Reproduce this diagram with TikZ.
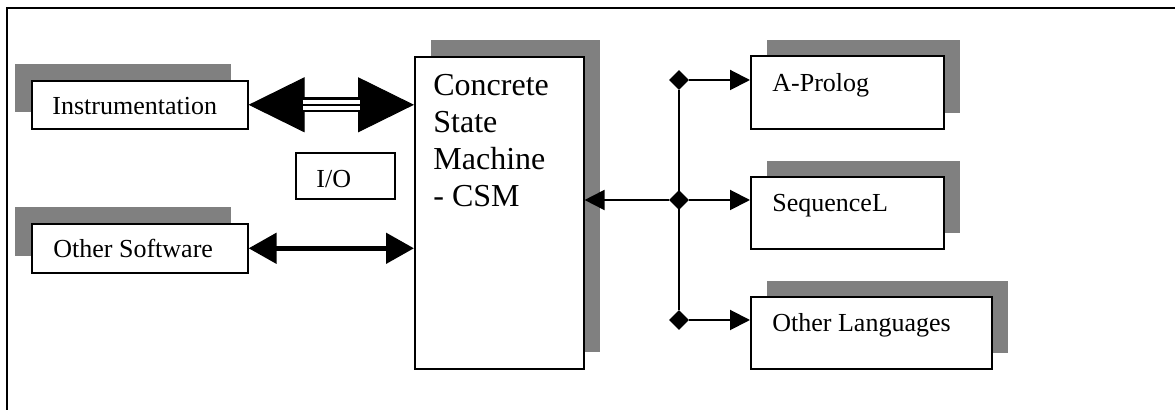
\documentclass[tikz,border=0pt]{standalone}
\usepackage{fontspec}
\setmainfont{Liberation Serif}
\usetikzlibrary{arrows.meta,shapes.geometric,shadows}
\definecolor{shadowgray}{RGB}{128,128,128}

\begin{document}
\begin{tikzpicture}[x=0.5pt,y=-0.5pt,font=\fontsize{13}{15}\selectfont,
  box/.style={draw=black,line width=0.8pt,fill=white,inner sep=0pt,anchor=north west},
  shadeleft/.style={general shadow={fill=shadowgray,shadow xshift=-8.5pt,shadow yshift=8.5pt}},
  shaderight/.style={general shadow={fill=shadowgray,shadow xshift=8pt,shadow yshift=8pt}},
  lbl/.style={inner sep=0pt,anchor=base west},
  junction/.style={diamond,fill=black,inner sep=0pt,minimum width=10pt,minimum height=10pt},
  bigarrow/.style={{Triangle[length=28pt,width=27.5pt]}-{Triangle[length=28pt,width=27.5pt]},line width=0.5pt},
  triple/.style={line width=1.25pt,preaction={draw,line width=7.5pt},preaction={draw=white,line width=5pt}},
  boldarrow/.style={{Triangle[length=14pt,width=15pt]}-{Triangle[length=14pt,width=15pt]},line width=2.5pt},
  thinarrow/.style={-{Triangle[length=10pt,width=10pt]},line width=1pt}]
\useasboundingbox (0,0) rectangle (1175,410);
\draw[line width=1pt] (7,410) -- (7,8) -- (1175,8);

\node[box,shadeleft,minimum width=108pt,minimum height=24pt] (inst) at (31,80) {};
\node[box,shadeleft,minimum width=108pt,minimum height=24.5pt] (soft) at (31,223) {};
\node[box,minimum width=49.5pt,minimum height=23pt] (io) at (295,152) {};
\node[box,general shadow={fill=shadowgray,shadow xshift=8pt,shadow yshift=8.5pt},minimum width=84.5pt,minimum height=156pt] (csm) at (414,56) {};
\node[box,shaderight,minimum width=96.5pt,minimum height=36.5pt] (aprolog) at (750,55) {};
\node[box,shaderight,minimum width=96.5pt,minimum height=36pt] (seql) at (750,176) {};
\node[box,shaderight,minimum width=120.5pt,minimum height=36pt] (otherlang) at (750,296) {};

\node[lbl] (insttext) at ([shift={(21,35)}]inst.north west) {Instrumentation};
\node[lbl] (softtext) at ([shift={(22,35)}]soft.north west) {Other Software};
\node[lbl] (iotext) at ([shift={(21,36)}]io.north west) {I/O};
\node[lbl,anchor=north west,align=left,font=\fontsize{16}{18.5}\selectfont] (csmtext) at ([shift={(19,18)}]csm.north west) {Concrete\\State\\Machine\\- CSM};
\node[lbl] (aprologtext) at ([shift={(22,37)}]aprolog.north west) {A-Prolog};
\node[lbl] (seqltext) at ([shift={(22,36)}]seql.north west) {SequenceL};
\node[lbl] (otherlangtext) at ([shift={(22,36)}]otherlang.north west) {Other Languages};

\draw[bigarrow] (inst.east) -- (inst.east -| csm.west);
\draw[triple] ([xshift=27pt]inst.east) -- ([xshift=-27pt]inst.east -| csm.west);
\draw[boldarrow] (soft.east) -- (soft.east -| csm.west);

\node[junction] (j1) at (679,80) {};
\node[junction] (j2) at (679,200) {};
\node[junction] (j3) at (679,320) {};
\draw[line width=1pt] (j1) -- (j3);
\draw[thinarrow] (j2) -- (j2 -| csm.east);
\draw[thinarrow] (j1) -- (j1 -| aprolog.west);
\draw[thinarrow] (j2) -- (j2 -| seql.west);
\draw[thinarrow] (j3) -- (j3 -| otherlang.west);
\end{tikzpicture}
\end{document}
